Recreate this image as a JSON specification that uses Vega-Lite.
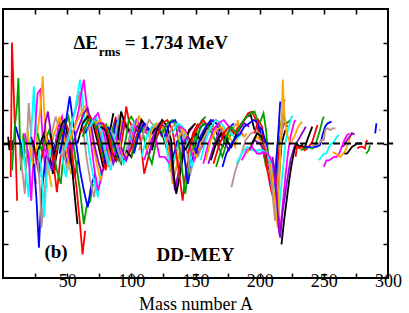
{
"$schema": "https://vega.github.io/schema/vega-lite/v6.json",
"width": 385, "height": 269,
"autosize": {"type": "none"},
"padding": {"left": 3, "top": 9, "right": 21, "bottom": 35},
"config": {"view": {"stroke": "black", "strokeWidth": 2},
 "axis": {"grid": false, "domain": false, "tickColor": "black", "tickWidth": 1.5, "labelFont": "Liberation Serif", "labelFontSize": 18, "labelColor": "black", "titleFont": "Liberation Serif", "titleFontSize": 18, "titleFontWeight": "normal", "titleColor": "black"}},
"resolve": {"axis": {"x": "independent", "y": "independent"}},
"layer": [
{"data": {"values": [
{"z":2,"a":4,"e":0.2},{"z":2,"a":5,"e":-0.2},{"z":2,"a":6,"e":0.1},{"z":2,"a":7,"e":-0.2},{"z":2,"a":8,"e":0.1},
{"z":3,"a":6,"e":-1.0},{"z":3,"a":7,"e":3.0},{"z":3,"a":9,"e":0.8},{"z":3,"a":10,"e":-0.4},{"z":3,"a":11,"e":-1.7},
{"z":4,"a":7,"e":-0.8},{"z":4,"a":9,"e":0.4},{"z":4,"a":11,"e":1.2},{"z":4,"a":12,"e":1.95},{"z":4,"a":13,"e":0.4},{"z":4,"a":14,"e":-0.8},{"z":4,"a":16,"e":0.3},{"z":4,"a":17,"e":-0.3},
{"z":5,"a":10,"e":0.5},{"z":5,"a":12,"e":0.2},{"z":5,"a":14,"e":0},{"z":5,"a":16,"e":-0.3},{"z":5,"a":18,"e":-0.7},{"z":5,"a":19,"e":-0.2},{"z":5,"a":21,"e":-0.6},
{"z":6,"a":13,"e":-0.3},{"z":6,"a":15,"e":-0.8},{"z":6,"a":17,"e":-1.5},{"z":6,"a":19,"e":0.3},{"z":6,"a":20,"e":1.2},{"z":6,"a":22,"e":0.2},{"z":6,"a":24,"e":-0.6},{"z":6,"a":26,"e":-1.2},
{"z":7,"a":15,"e":0.1},{"z":7,"a":17,"e":-0.6},{"z":7,"a":20,"e":-1.6},{"z":7,"a":22,"e":0.3},{"z":7,"a":24,"e":1.7},{"z":7,"a":25,"e":1.0},{"z":7,"a":27,"e":-0.3},{"z":7,"a":29,"e":-1.0},
{"z":8,"a":17,"e":0.3},{"z":8,"a":20,"e":-0.4},{"z":8,"a":22,"e":-1.7},{"z":8,"a":24,"e":-0.2},{"z":8,"a":26,"e":1.0},{"z":8,"a":27,"e":1.5},{"z":8,"a":29,"e":1.6},{"z":8,"a":30,"e":0.7},{"z":8,"a":32,"e":-0.4},{"z":8,"a":34,"e":-1.3},
{"z":9,"a":19,"e":0.4},{"z":9,"a":22,"e":-0.4},{"z":9,"a":25,"e":-0.9},{"z":9,"a":27,"e":0.4},{"z":9,"a":29,"e":1.0},{"z":9,"a":31,"e":2.0},{"z":9,"a":32,"e":1.0},{"z":9,"a":34,"e":0},{"z":9,"a":36,"e":-0.9},{"z":9,"a":38,"e":-1.3},
{"z":10,"a":22,"e":0.2},{"z":10,"a":25,"e":-0.3},{"z":10,"a":28,"e":-0.9},{"z":10,"a":31,"e":-0.2},{"z":10,"a":33,"e":0.6},{"z":10,"a":35,"e":0.95},{"z":10,"a":37,"e":0.4},{"z":10,"a":39,"e":-0.4},{"z":10,"a":41,"e":-0.8},
{"z":11,"a":23,"e":0.1},{"z":11,"a":26,"e":-0.4},{"z":11,"a":29,"e":0},{"z":11,"a":32,"e":0.3},{"z":11,"a":35,"e":-0.2},{"z":11,"a":37,"e":-0.5},{"z":11,"a":39,"e":-0.9},{"z":11,"a":42,"e":-0.3},{"z":11,"a":44,"e":0.2},
{"z":12,"a":25,"e":-0.2},{"z":12,"a":28,"e":-0.7},{"z":12,"a":31,"e":-0.3},{"z":12,"a":34,"e":0.2},{"z":12,"a":37,"e":-0.1},{"z":12,"a":40,"e":-0.8},{"z":12,"a":42,"e":-1.45},{"z":12,"a":44,"e":-0.7},{"z":12,"a":46,"e":0},
{"z":13,"a":27,"e":0.3},{"z":13,"a":30,"e":-0.2},{"z":13,"a":33,"e":0.1},{"z":13,"a":36,"e":0.4},{"z":13,"a":39,"e":-0.2},{"z":13,"a":42,"e":-0.8},{"z":13,"a":45,"e":-1.2},{"z":13,"a":47,"e":-0.4},{"z":13,"a":49,"e":0.2},
{"z":14,"a":24,"e":-0.6},{"z":14,"a":26,"e":-1.6},{"z":14,"a":28,"e":-3.1},{"z":14,"a":30,"e":-1.5},{"z":14,"a":33,"e":-0.5},{"z":14,"a":36,"e":0.1},{"z":14,"a":39,"e":-0.3},{"z":14,"a":42,"e":0.2},{"z":14,"a":45,"e":0.6},{"z":14,"a":48,"e":-0.1},{"z":14,"a":50,"e":-0.6},
{"z":15,"a":27,"e":-0.5},{"z":15,"a":29,"e":-1.4},{"z":15,"a":30,"e":-2.5},{"z":15,"a":32,"e":-1.6},{"z":15,"a":35,"e":-0.3},{"z":15,"a":38,"e":0.3},{"z":15,"a":41,"e":0.8},{"z":15,"a":44,"e":0.4},{"z":15,"a":47,"e":-0.2},{"z":15,"a":50,"e":-0.8},{"z":15,"a":52,"e":-0.5},
{"z":16,"a":28,"e":-0.2},{"z":16,"a":30,"e":-0.8},{"z":16,"a":32,"e":-2.2},{"z":16,"a":34,"e":-1.0},{"z":16,"a":37,"e":-0.2},{"z":16,"a":40,"e":0.3},{"z":16,"a":43,"e":0.1},{"z":16,"a":46,"e":-0.4},{"z":16,"a":49,"e":-1.0},{"z":16,"a":52,"e":-0.4},{"z":16,"a":54,"e":0.1},
{"z":17,"a":31,"e":0},{"z":17,"a":34,"e":-0.3},{"z":17,"a":37,"e":0.1},{"z":17,"a":40,"e":-0.4},{"z":17,"a":43,"e":0.5},{"z":17,"a":46,"e":0.8},{"z":17,"a":49,"e":0},{"z":17,"a":52,"e":-0.6},{"z":17,"a":55,"e":0},
{"z":18,"a":33,"e":0.3},{"z":18,"a":36,"e":-0.2},{"z":18,"a":39,"e":0.2},{"z":18,"a":42,"e":0.5},{"z":18,"a":44,"e":0.8},{"z":18,"a":47,"e":0.3},{"z":18,"a":50,"e":-0.4},{"z":18,"a":53,"e":-0.9},{"z":18,"a":56,"e":-0.2},
{"z":19,"a":35,"e":-0.4},{"z":19,"a":38,"e":-0.8},{"z":19,"a":41,"e":-0.2},{"z":19,"a":44,"e":0.2},{"z":19,"a":47,"e":0.5},{"z":19,"a":50,"e":0.1},{"z":19,"a":53,"e":-0.6},{"z":19,"a":56,"e":-1.0},{"z":19,"a":58,"e":-0.5},
{"z":20,"a":37,"e":0.3},{"z":20,"a":40,"e":-0.4},{"z":20,"a":43,"e":0.2},{"z":20,"a":46,"e":0.6},{"z":20,"a":48,"e":0.7},{"z":20,"a":51,"e":0.1},{"z":20,"a":54,"e":-0.8},{"z":20,"a":56,"e":-1.6},{"z":20,"a":58,"e":-2.4},
{"z":21,"a":40,"e":-0.5},{"z":21,"a":43,"e":0},{"z":21,"a":46,"e":0.3},{"z":21,"a":49,"e":0.6},{"z":21,"a":51,"e":0.4},{"z":21,"a":54,"e":-0.4},{"z":21,"a":57,"e":-1.2},{"z":21,"a":60,"e":-2.4},{"z":21,"a":62,"e":-3.3},{"z":21,"a":64,"e":-2.6},
{"z":22,"a":42,"e":-0.2},{"z":22,"a":45,"e":0.3},{"z":22,"a":48,"e":0.5},{"z":22,"a":51,"e":0.8},{"z":22,"a":54,"e":0.2},{"z":22,"a":57,"e":-0.6},{"z":22,"a":60,"e":-1.4},{"z":22,"a":63,"e":-2.4},{"z":22,"a":65,"e":-1.9},{"z":22,"a":68,"e":-1.7},{"z":22,"a":70,"e":-1.2},
{"z":23,"a":44,"e":-0.3},{"z":23,"a":47,"e":0.2},{"z":23,"a":50,"e":0.9},{"z":23,"a":52,"e":1.4},{"z":23,"a":54,"e":0.8},{"z":23,"a":57,"e":0},{"z":23,"a":60,"e":-0.8},{"z":23,"a":63,"e":-1.4},{"z":23,"a":66,"e":-1.9},{"z":23,"a":69,"e":-1.2},{"z":23,"a":72,"e":-0.9},
{"z":24,"a":46,"e":-0.4},{"z":24,"a":49,"e":0},{"z":24,"a":52,"e":0.4},{"z":24,"a":55,"e":0.8},{"z":24,"a":58,"e":1.2},{"z":24,"a":60,"e":1.55},{"z":24,"a":62,"e":0.6},{"z":24,"a":65,"e":-0.4},{"z":24,"a":68,"e":-1.1},{"z":24,"a":71,"e":-1.6},{"z":24,"a":73,"e":-1.0},
{"z":25,"a":48,"e":-0.2},{"z":25,"a":51,"e":0.1},{"z":25,"a":54,"e":0.6},{"z":25,"a":57,"e":1.2},{"z":25,"a":60,"e":1.9},{"z":25,"a":62,"e":1.3},{"z":25,"a":65,"e":0.3},{"z":25,"a":68,"e":-0.5},{"z":25,"a":71,"e":-1.1},{"z":25,"a":74,"e":-1.6},{"z":25,"a":76,"e":-0.8},
{"z":26,"a":50,"e":-0.3},{"z":26,"a":53,"e":0.2},{"z":26,"a":56,"e":0.5},{"z":26,"a":59,"e":1.0},{"z":26,"a":61,"e":1.5},{"z":26,"a":63,"e":1.9},{"z":26,"a":65,"e":1.2},{"z":26,"a":68,"e":0.2},{"z":26,"a":71,"e":-0.7},{"z":26,"a":74,"e":-1.4},{"z":26,"a":77,"e":-1.0},
{"z":27,"a":52,"e":0.1},{"z":27,"a":55,"e":0.4},{"z":27,"a":58,"e":0.7},{"z":27,"a":61,"e":0.9},{"z":27,"a":64,"e":1.1},{"z":27,"a":67,"e":0.6},{"z":27,"a":70,"e":0},{"z":27,"a":73,"e":-0.6},{"z":27,"a":76,"e":-1.1},{"z":27,"a":79,"e":-0.6},
{"z":28,"a":54,"e":-0.1},{"z":28,"a":57,"e":0.3},{"z":28,"a":60,"e":0.6},{"z":28,"a":63,"e":0.9},{"z":28,"a":66,"e":1.05},{"z":28,"a":68,"e":0.7},{"z":28,"a":71,"e":0},{"z":28,"a":74,"e":-0.5},{"z":28,"a":77,"e":-0.9},{"z":28,"a":80,"e":-0.5},
{"z":29,"a":58,"e":0},{"z":29,"a":62,"e":0.6},{"z":29,"a":66,"e":0.8},{"z":29,"a":70,"e":0.6},{"z":29,"a":74,"e":0},{"z":29,"a":78,"e":-0.7},{"z":29,"a":82,"e":0.1},{"z":29,"a":86,"e":0.9},
{"z":30,"a":60,"e":0.3},{"z":30,"a":64,"e":0.5},{"z":30,"a":68,"e":0.8},{"z":30,"a":72,"e":0.5},{"z":30,"a":76,"e":-0.2},{"z":30,"a":80,"e":-0.8},{"z":30,"a":84,"e":0.2},{"z":30,"a":88,"e":0.8},
{"z":31,"a":62,"e":0.2},{"z":31,"a":66,"e":0.7},{"z":31,"a":70,"e":0.7},{"z":31,"a":74,"e":0.4},{"z":31,"a":78,"e":-0.4},{"z":31,"a":82,"e":-0.6},{"z":31,"a":86,"e":0.5},{"z":31,"a":90,"e":0.7},
{"z":32,"a":64,"e":0.3},{"z":32,"a":68,"e":0.6},{"z":32,"a":72,"e":0.8},{"z":32,"a":76,"e":0.2},{"z":32,"a":80,"e":-0.6},{"z":32,"a":84,"e":-0.4},{"z":32,"a":88,"e":0.7},{"z":32,"a":92,"e":0.5},
{"z":33,"a":66,"e":0.4},{"z":33,"a":70,"e":0.7},{"z":33,"a":74,"e":0.6},{"z":33,"a":78,"e":0},{"z":33,"a":82,"e":-0.7},{"z":33,"a":86,"e":-0.1},{"z":33,"a":90,"e":0.8},{"z":33,"a":94,"e":0.4},
{"z":34,"a":68,"e":0.5},{"z":34,"a":72,"e":0.8},{"z":34,"a":76,"e":0.5},{"z":34,"a":80,"e":-0.2},{"z":34,"a":84,"e":-0.8},{"z":34,"a":88,"e":0.2},{"z":34,"a":92,"e":0.9},{"z":34,"a":96,"e":0.4},
{"z":35,"a":70,"e":0.7},{"z":35,"a":74,"e":0.9},{"z":35,"a":78,"e":0.4},{"z":35,"a":82,"e":-0.3},{"z":35,"a":86,"e":-0.5},{"z":35,"a":90,"e":0.5},{"z":35,"a":94,"e":0.7},{"z":35,"a":98,"e":0.3},
{"z":36,"a":72,"e":0.6},{"z":36,"a":76,"e":0.7},{"z":36,"a":80,"e":0.3},{"z":36,"a":84,"e":-0.5},{"z":36,"a":88,"e":-0.4},{"z":36,"a":92,"e":0.7},{"z":36,"a":96,"e":0.6},{"z":36,"a":100,"e":0.3},
{"z":37,"a":74,"e":0.6},{"z":37,"a":78,"e":0.6},{"z":37,"a":82,"e":0},{"z":37,"a":86,"e":-0.6},{"z":37,"a":90,"e":-0.1},{"z":37,"a":94,"e":0.7},{"z":37,"a":98,"e":0.4},{"z":37,"a":102,"e":0.3},
{"z":38,"a":76,"e":0.5},{"z":38,"a":80,"e":0.4},{"z":38,"a":84,"e":-0.2},{"z":38,"a":88,"e":-0.5},{"z":38,"a":90,"e":0.3},{"z":38,"a":92,"e":0.95},{"z":38,"a":96,"e":0.5},{"z":38,"a":100,"e":0.3},{"z":38,"a":104,"e":0.4},
{"z":39,"a":78,"e":0.6},{"z":39,"a":82,"e":0.3},{"z":39,"a":86,"e":-0.4},{"z":39,"a":90,"e":-0.5},{"z":39,"a":94,"e":0.4},{"z":39,"a":96,"e":1.1},{"z":39,"a":98,"e":0.7},{"z":39,"a":102,"e":0.4},{"z":39,"a":106,"e":0.5},
{"z":40,"a":80,"e":0.6},{"z":40,"a":84,"e":0.2},{"z":40,"a":88,"e":-0.3},{"z":40,"a":92,"e":-0.6},{"z":40,"a":96,"e":0.2},{"z":40,"a":98,"e":0.7},{"z":40,"a":100,"e":0.8},{"z":40,"a":104,"e":0.5},{"z":40,"a":108,"e":0.4},
{"z":41,"a":82,"e":0.5},{"z":41,"a":86,"e":0.1},{"z":41,"a":90,"e":-0.4},{"z":41,"a":94,"e":-0.5},{"z":41,"a":98,"e":0},{"z":41,"a":100,"e":0.4},{"z":41,"a":102,"e":0.5},{"z":41,"a":106,"e":0.3},{"z":41,"a":110,"e":0.45},
{"z":42,"a":84,"e":0.4},{"z":42,"a":88,"e":0},{"z":42,"a":92,"e":-0.5},{"z":42,"a":96,"e":-0.3},{"z":42,"a":100,"e":0.5},{"z":42,"a":104,"e":0.7},{"z":42,"a":108,"e":0.4},{"z":42,"a":112,"e":0.3},{"z":42,"a":114,"e":0.4},
{"z":43,"a":86,"e":0.3},{"z":43,"a":90,"e":-0.1},{"z":43,"a":94,"e":-0.6},{"z":43,"a":98,"e":-0.2},{"z":43,"a":102,"e":0.6},{"z":43,"a":106,"e":0.8},{"z":43,"a":110,"e":0.4},{"z":43,"a":114,"e":0.2},{"z":43,"a":116,"e":0.3},
{"z":44,"a":88,"e":0.2},{"z":44,"a":92,"e":-0.3},{"z":44,"a":96,"e":-0.5},{"z":44,"a":100,"e":0.1},{"z":44,"a":104,"e":0.7},{"z":44,"a":108,"e":0.5},{"z":44,"a":112,"e":0.3},{"z":44,"a":116,"e":0.4},{"z":44,"a":118,"e":0.5},
{"z":45,"a":90,"e":0.1},{"z":45,"a":94,"e":-0.4},{"z":45,"a":98,"e":-0.3},{"z":45,"a":102,"e":0.3},{"z":45,"a":106,"e":0.8},{"z":45,"a":110,"e":0.5},{"z":45,"a":114,"e":0.3},{"z":45,"a":118,"e":0.5},{"z":45,"a":122,"e":0.4},
{"z":46,"a":92,"e":-0.1},{"z":46,"a":96,"e":-0.5},{"z":46,"a":100,"e":-0.1},{"z":46,"a":104,"e":0.5},{"z":46,"a":108,"e":0.6},{"z":46,"a":112,"e":0.4},{"z":46,"a":116,"e":0.4},{"z":46,"a":120,"e":0.5},{"z":46,"a":124,"e":0.2},
{"z":47,"a":96,"e":-0.2},{"z":47,"a":100,"e":-0.4},{"z":47,"a":104,"e":0.2},{"z":47,"a":108,"e":0.7},{"z":47,"a":112,"e":0.5},{"z":47,"a":116,"e":0.3},{"z":47,"a":120,"e":0.5},{"z":47,"a":124,"e":0.3},{"z":47,"a":128,"e":-0.2},
{"z":48,"a":98,"e":-0.3},{"z":48,"a":102,"e":0},{"z":48,"a":106,"e":0.4},{"z":48,"a":108,"e":-0.2},{"z":48,"a":110,"e":-0.9},{"z":48,"a":114,"e":-0.3},{"z":48,"a":118,"e":0.3},{"z":48,"a":122,"e":0.5},{"z":48,"a":126,"e":0.3},{"z":48,"a":130,"e":-0.3},
{"z":49,"a":100,"e":-0.4},{"z":49,"a":104,"e":0.1},{"z":49,"a":108,"e":0.5},{"z":49,"a":112,"e":-0.2},{"z":49,"a":116,"e":-0.6},{"z":49,"a":120,"e":0.2},{"z":49,"a":124,"e":0.5},{"z":49,"a":128,"e":0.3},{"z":49,"a":132,"e":-0.4},
{"z":50,"a":102,"e":-0.3},{"z":50,"a":106,"e":0.3},{"z":50,"a":110,"e":0.6},{"z":50,"a":114,"e":0.4},{"z":50,"a":118,"e":0.5},{"z":50,"a":122,"e":0.5},{"z":50,"a":126,"e":0.2},{"z":50,"a":129,"e":-0.2},{"z":50,"a":131,"e":-0.6},{"z":50,"a":134,"e":-0.2},{"z":50,"a":136,"e":0.1},
{"z":51,"a":106,"e":-0.2},{"z":51,"a":110,"e":0.4},{"z":51,"a":114,"e":0.7},{"z":51,"a":118,"e":0.5},{"z":51,"a":122,"e":0.5},{"z":51,"a":126,"e":0.3},{"z":51,"a":130,"e":-0.3},{"z":51,"a":132,"e":-0.7},{"z":51,"a":135,"e":-0.3},{"z":51,"a":138,"e":0.2},
{"z":52,"a":108,"e":-0.4},{"z":52,"a":112,"e":0.2},{"z":52,"a":116,"e":0.5},{"z":52,"a":120,"e":0.6},{"z":52,"a":124,"e":0.4},{"z":52,"a":127,"e":0},{"z":52,"a":130,"e":-0.85},{"z":52,"a":133,"e":-0.5},{"z":52,"a":136,"e":-0.1},{"z":52,"a":140,"e":0.3},
{"z":53,"a":110,"e":-0.5},{"z":53,"a":114,"e":0},{"z":53,"a":118,"e":0.3},{"z":53,"a":122,"e":-0.4},{"z":53,"a":126,"e":-0.4},{"z":53,"a":130,"e":-0.6},{"z":53,"a":133,"e":-1.0},{"z":53,"a":136,"e":-0.6},{"z":53,"a":139,"e":-0.1},{"z":53,"a":142,"e":0.3},
{"z":54,"a":112,"e":-0.2},{"z":54,"a":116,"e":0.4},{"z":54,"a":120,"e":0.6},{"z":54,"a":124,"e":0.5},{"z":54,"a":127,"e":0.3},{"z":54,"a":130,"e":-0.4},{"z":54,"a":132,"e":-1.2},{"z":54,"a":135,"e":-0.7},{"z":54,"a":138,"e":-0.2},{"z":54,"a":142,"e":0.2},{"z":54,"a":146,"e":0.4},
{"z":55,"a":114,"e":-0.3},{"z":55,"a":118,"e":0.3},{"z":55,"a":122,"e":0.6},{"z":55,"a":126,"e":0.5},{"z":55,"a":130,"e":-0.1},{"z":55,"a":132,"e":-0.8},{"z":55,"a":134,"e":-1.4},{"z":55,"a":137,"e":-0.8},{"z":55,"a":140,"e":-0.2},{"z":55,"a":144,"e":0.3},{"z":55,"a":148,"e":0.5},
{"z":56,"a":116,"e":-0.2},{"z":56,"a":120,"e":0.4},{"z":56,"a":124,"e":0.7},{"z":56,"a":128,"e":0.5},{"z":56,"a":131,"e":0.1},{"z":56,"a":133,"e":-0.9},{"z":56,"a":135,"e":-1.5},{"z":56,"a":138,"e":-0.9},{"z":56,"a":141,"e":-0.2},{"z":56,"a":145,"e":0.4},{"z":56,"a":150,"e":0.6},
{"z":57,"a":120,"e":0.2},{"z":57,"a":124,"e":0.6},{"z":57,"a":128,"e":0.7},{"z":57,"a":132,"e":0.4},{"z":57,"a":135,"e":-0.3},{"z":57,"a":138,"e":-1.1},{"z":57,"a":140,"e":-1.7},{"z":57,"a":142,"e":-1.0},{"z":57,"a":145,"e":-0.3},{"z":57,"a":148,"e":0.3},{"z":57,"a":152,"e":0.6},
{"z":58,"a":124,"e":0.3},{"z":58,"a":128,"e":0.6},{"z":58,"a":132,"e":0.7},{"z":58,"a":135,"e":0.5},{"z":58,"a":138,"e":-0.3},{"z":58,"a":140,"e":-0.9},{"z":58,"a":142,"e":-1.5},{"z":58,"a":144,"e":-0.9},{"z":58,"a":147,"e":-0.2},{"z":58,"a":151,"e":0.4},{"z":58,"a":155,"e":0.7},{"z":58,"a":158,"e":0.8},
{"z":59,"a":126,"e":0.2},{"z":59,"a":130,"e":0.6},{"z":59,"a":134,"e":0.7},{"z":59,"a":138,"e":0.4},{"z":59,"a":141,"e":-0.3},{"z":59,"a":144,"e":-1.2},{"z":59,"a":147,"e":-0.6},{"z":59,"a":150,"e":0},{"z":59,"a":154,"e":0.5},{"z":59,"a":158,"e":0.6},
{"z":60,"a":128,"e":0.1},{"z":60,"a":132,"e":0.5},{"z":60,"a":136,"e":0.6},{"z":60,"a":140,"e":0.3},{"z":60,"a":143,"e":-0.2},{"z":60,"a":146,"e":-0.9},{"z":60,"a":149,"e":-0.4},{"z":60,"a":152,"e":0.1},{"z":60,"a":156,"e":0.4},{"z":60,"a":160,"e":0.5},
{"z":61,"a":132,"e":0.3},{"z":61,"a":136,"e":0.6},{"z":61,"a":140,"e":0.5},{"z":61,"a":144,"e":0},{"z":61,"a":147,"e":-0.7},{"z":61,"a":150,"e":-0.3},{"z":61,"a":154,"e":0.2},{"z":61,"a":158,"e":0.5},{"z":61,"a":162,"e":0.6},
{"z":62,"a":134,"e":0.2},{"z":62,"a":138,"e":0.5},{"z":62,"a":142,"e":0.4},{"z":62,"a":146,"e":-0.1},{"z":62,"a":149,"e":-0.5},{"z":62,"a":152,"e":-0.2},{"z":62,"a":156,"e":0.3},{"z":62,"a":160,"e":0.6},{"z":62,"a":164,"e":0.7},{"z":62,"a":166,"e":0.6},
{"z":63,"a":136,"e":0.1},{"z":63,"a":140,"e":0.4},{"z":63,"a":144,"e":0.2},{"z":63,"a":148,"e":-0.2},{"z":63,"a":151,"e":-0.4},{"z":63,"a":154,"e":0},{"z":63,"a":158,"e":0.4},{"z":63,"a":162,"e":0.5},{"z":63,"a":166,"e":0.7},{"z":63,"a":168,"e":0.6},
{"z":64,"a":140,"e":0},{"z":64,"a":144,"e":0.2},{"z":64,"a":148,"e":0},{"z":64,"a":152,"e":-0.3},{"z":64,"a":155,"e":-0.1},{"z":64,"a":159,"e":0.3},{"z":64,"a":163,"e":0.5},{"z":64,"a":167,"e":0.4},{"z":64,"a":170,"e":0.2},
{"z":65,"a":142,"e":-0.2},{"z":65,"a":146,"e":0.1},{"z":65,"a":150,"e":0.3},{"z":65,"a":154,"e":0.1},{"z":65,"a":158,"e":0.4},{"z":65,"a":162,"e":0.6},{"z":65,"a":166,"e":0.4},{"z":65,"a":169,"e":0},{"z":65,"a":172,"e":-0.1},
{"z":66,"a":144,"e":-0.3},{"z":66,"a":148,"e":0.2},{"z":66,"a":152,"e":0.5},{"z":66,"a":156,"e":0.7},{"z":66,"a":160,"e":0.5},{"z":66,"a":164,"e":0.4},{"z":66,"a":168,"e":0.6},{"z":66,"a":172,"e":0.3},{"z":66,"a":176,"e":0.1},
{"z":67,"a":148,"e":-0.2},{"z":67,"a":152,"e":0.3},{"z":67,"a":156,"e":0.6},{"z":67,"a":160,"e":0.5},{"z":67,"a":164,"e":0.2},{"z":67,"a":168,"e":-0.1},{"z":67,"a":171,"e":-0.4},{"z":67,"a":174,"e":0},{"z":67,"a":178,"e":0.3},
{"z":68,"a":150,"e":-0.3},{"z":68,"a":154,"e":0.2},{"z":68,"a":158,"e":0.5},{"z":68,"a":162,"e":0.7},{"z":68,"a":166,"e":0.6},{"z":68,"a":170,"e":0.3},{"z":68,"a":174,"e":0.1},{"z":68,"a":177,"e":0.5},{"z":68,"a":180,"e":0.6},
{"z":69,"a":152,"e":-0.4},{"z":69,"a":156,"e":0.1},{"z":69,"a":160,"e":0.4},{"z":69,"a":164,"e":0.5},{"z":69,"a":168,"e":0.3},{"z":69,"a":172,"e":0.4},{"z":69,"a":176,"e":0.3},{"z":69,"a":180,"e":0.5},{"z":69,"a":182,"e":0.6},
{"z":70,"a":154,"e":-0.5},{"z":70,"a":158,"e":0.1},{"z":70,"a":162,"e":0.5},{"z":70,"a":166,"e":0.7},{"z":70,"a":170,"e":0.6},{"z":70,"a":174,"e":0.4},{"z":70,"a":178,"e":0.3},{"z":70,"a":182,"e":0.1},{"z":70,"a":186,"e":0.3},
{"z":71,"a":156,"e":-0.6},{"z":71,"a":160,"e":0},{"z":71,"a":164,"e":0.4},{"z":71,"a":168,"e":0.6},{"z":71,"a":172,"e":0.7},{"z":71,"a":176,"e":0.5},{"z":71,"a":180,"e":0.3},{"z":71,"a":184,"e":0.4},{"z":71,"a":188,"e":0.2},
{"z":72,"a":158,"e":-0.5},{"z":72,"a":162,"e":0.1},{"z":72,"a":166,"e":0.4},{"z":72,"a":170,"e":0.5},{"z":72,"a":174,"e":0.3},{"z":72,"a":178,"e":0.1},{"z":72,"a":181,"e":-0.1},{"z":72,"a":183,"e":0.7},{"z":72,"a":185,"e":0.3},{"z":72,"a":188,"e":0.2},{"z":72,"a":190,"e":0.3},
{"z":73,"a":160,"e":-0.6},{"z":73,"a":164,"e":-0.1},{"z":73,"a":168,"e":0.3},{"z":73,"a":172,"e":0.1},{"z":73,"a":176,"e":-0.2},{"z":73,"a":180,"e":0.1},{"z":73,"a":184,"e":0.4},{"z":73,"a":188,"e":0.6},{"z":73,"a":192,"e":0.5},
{"z":74,"a":162,"e":-0.5},{"z":74,"a":166,"e":0},{"z":74,"a":170,"e":0.3},{"z":74,"a":174,"e":0.1},{"z":74,"a":178,"e":-0.1},{"z":74,"a":182,"e":0.3},{"z":74,"a":186,"e":0.6},{"z":74,"a":190,"e":0.8},{"z":74,"a":193,"e":0.85},{"z":74,"a":196,"e":0.4},
{"z":75,"a":164,"e":-0.6},{"z":75,"a":168,"e":-0.1},{"z":75,"a":172,"e":0.3},{"z":75,"a":176,"e":0.5},{"z":75,"a":180,"e":0.3},{"z":75,"a":184,"e":0.5},{"z":75,"a":188,"e":0.7},{"z":75,"a":191,"e":0.9},{"z":75,"a":194,"e":0.95},{"z":75,"a":197,"e":0.7},{"z":75,"a":200,"e":0.2},{"z":75,"a":203,"e":-0.3},{"z":75,"a":206,"e":-0.8},
{"z":76,"a":166,"e":-0.7},{"z":76,"a":170,"e":-0.2},{"z":76,"a":174,"e":0.2},{"z":76,"a":178,"e":0.5},{"z":76,"a":182,"e":0.3},{"z":76,"a":186,"e":0.6},{"z":76,"a":190,"e":0.8},{"z":76,"a":193,"e":0.9},{"z":76,"a":196,"e":0.95},{"z":76,"a":199,"e":0.6},{"z":76,"a":202,"e":0},{"z":76,"a":205,"e":-0.7},
{"z":77,"a":171,"e":-0.7},{"z":77,"a":174,"e":-0.3},{"z":77,"a":178,"e":0},{"z":77,"a":182,"e":0.2},{"z":77,"a":185,"e":0.3},{"z":77,"a":188,"e":0.5},{"z":77,"a":192,"e":0.6},{"z":77,"a":195,"e":0.7},{"z":77,"a":198,"e":0.65},{"z":77,"a":201,"e":0.3},{"z":77,"a":204,"e":-0.2},{"z":77,"a":207,"e":-0.8},
{"z":78,"a":178,"e":-1.3},{"z":78,"a":181,"e":-0.8},{"z":78,"a":185,"e":-0.4},{"z":78,"a":189,"e":0.1},{"z":78,"a":193,"e":0.3},{"z":78,"a":197,"e":0.35},{"z":78,"a":200,"e":0.3},{"z":78,"a":203,"e":0.2},{"z":78,"a":206,"e":-0.1},
{"z":79,"a":182,"e":-0.6},{"z":79,"a":186,"e":-0.3},{"z":79,"a":190,"e":-0.1},{"z":79,"a":194,"e":-0.2},{"z":79,"a":197,"e":-0.2},{"z":79,"a":200,"e":-0.3},{"z":79,"a":203,"e":-0.2},{"z":79,"a":206,"e":-0.5},{"z":79,"a":209,"e":-0.9},{"z":79,"a":212,"e":-0.6},
{"z":80,"a":186,"e":-0.5},{"z":80,"a":190,"e":-0.2},{"z":80,"a":194,"e":-0.1},{"z":80,"a":198,"e":-0.3},{"z":80,"a":201,"e":-0.3},{"z":80,"a":204,"e":-0.25},{"z":80,"a":207,"e":-0.6},{"z":80,"a":210,"e":-1.1},{"z":80,"a":212,"e":-0.7},{"z":80,"a":214,"e":-0.4},
{"z":81,"a":190,"e":-0.3},{"z":81,"a":194,"e":0},{"z":81,"a":198,"e":0.2},{"z":81,"a":202,"e":0},{"z":81,"a":205,"e":-0.3},{"z":81,"a":208,"e":-0.9},{"z":81,"a":211,"e":-1.4},{"z":81,"a":214,"e":-0.6},{"z":81,"a":216,"e":-0.1},
{"z":82,"a":192,"e":-0.2},{"z":82,"a":196,"e":0.1},{"z":82,"a":200,"e":0},{"z":82,"a":204,"e":-0.2},{"z":82,"a":207,"e":-0.6},{"z":82,"a":210,"e":-1.2},{"z":82,"a":212,"e":-1.9},{"z":82,"a":214,"e":-1.0},{"z":82,"a":216,"e":-0.2},{"z":82,"a":218,"e":0.2},
{"z":83,"a":194,"e":0},{"z":83,"a":198,"e":0.3},{"z":83,"a":202,"e":0.2},{"z":83,"a":205,"e":-0.2},{"z":83,"a":208,"e":-0.8},{"z":83,"a":211,"e":-1.5},{"z":83,"a":213,"e":-2.0},{"z":83,"a":215,"e":-1.0},{"z":83,"a":217,"e":0},{"z":83,"a":220,"e":0.4},
{"z":84,"a":196,"e":0.3},{"z":84,"a":199,"e":0.7},{"z":84,"a":202,"e":0.5},{"z":84,"a":204,"e":-0.3},{"z":84,"a":206,"e":-0.8},{"z":84,"a":209,"e":-1.4},{"z":84,"a":212,"e":-1.8},{"z":84,"a":214,"e":-0.8},{"z":84,"a":216,"e":0.2},{"z":84,"a":219,"e":0.6},{"z":84,"a":222,"e":0.5},
{"z":85,"a":200,"e":0.6},{"z":85,"a":203,"e":0.9},{"z":85,"a":205,"e":0.4},{"z":85,"a":207,"e":-0.5},{"z":85,"a":209,"e":-0.8},{"z":85,"a":211,"e":-1.2},{"z":85,"a":213,"e":-0.4},{"z":85,"a":215,"e":0.4},{"z":85,"a":218,"e":0.8},{"z":85,"a":221,"e":0.6},{"z":85,"a":224,"e":0.7},
{"z":86,"a":200,"e":0.5},{"z":86,"a":202,"e":0.4},{"z":86,"a":205,"e":0},{"z":86,"a":207,"e":-0.5},{"z":86,"a":209,"e":-1.2},{"z":86,"a":211,"e":-1.7},{"z":86,"a":213,"e":-0.6},{"z":86,"a":215,"e":0.6},{"z":86,"a":216,"e":1.25},
{"z":87,"a":204,"e":0},{"z":87,"a":206,"e":-0.3},{"z":87,"a":208,"e":-0.8},{"z":87,"a":210,"e":-1.5},{"z":87,"a":212,"e":-2.3},{"z":87,"a":214,"e":-1.2},{"z":87,"a":216,"e":-0.2},{"z":87,"a":218,"e":0.6},{"z":87,"a":219,"e":1.25},{"z":87,"a":220,"e":1.3},
{"z":88,"a":198,"e":-0.2},{"z":88,"a":202,"e":-0.2},{"z":88,"a":206,"e":-0.3},{"z":88,"a":208,"e":-0.5},{"z":88,"a":210,"e":-1.0},{"z":88,"a":212,"e":-1.7},{"z":88,"a":214,"e":-2.4},{"z":88,"a":216,"e":-1.6},{"z":88,"a":218,"e":-0.8},{"z":88,"a":220,"e":0},{"z":88,"a":222,"e":0.4},{"z":88,"a":225,"e":0.8},{"z":88,"a":226,"e":0.8},
{"z":89,"a":202,"e":-0.25},{"z":89,"a":206,"e":-0.3},{"z":89,"a":208,"e":-0.4},{"z":89,"a":210,"e":-0.6},{"z":89,"a":212,"e":-1.1},{"z":89,"a":214,"e":-1.8},{"z":89,"a":216,"e":-2.6},{"z":89,"a":218,"e":-1.8},{"z":89,"a":220,"e":-1.0},{"z":89,"a":222,"e":-0.3},{"z":89,"a":224,"e":0.2},{"z":89,"a":227,"e":0.65},{"z":89,"a":228,"e":0.7},
{"z":90,"a":208,"e":-0.6},{"z":90,"a":210,"e":-1.0},{"z":90,"a":212,"e":-1.8},{"z":90,"a":214,"e":-2.5},{"z":90,"a":216,"e":-0.4},{"z":90,"a":218,"e":1.9},{"z":90,"a":219,"e":1.0},{"z":90,"a":221,"e":0.3},{"z":90,"a":224,"e":0},{"z":90,"a":227,"e":0.2},{"z":90,"a":230,"e":0.5},{"z":90,"a":233,"e":0.65},
{"z":91,"a":210,"e":-0.4},{"z":91,"a":212,"e":-1.0},{"z":91,"a":214,"e":-2.0},{"z":91,"a":215,"e":-2.6},{"z":91,"a":216,"e":-2.8},{"z":91,"a":218,"e":-2.0},{"z":91,"a":221,"e":-1.2},{"z":91,"a":224,"e":-0.5},{"z":91,"a":227,"e":-0.1},{"z":91,"a":230,"e":0.1},{"z":91,"a":233,"e":0.3},{"z":91,"a":236,"e":0.5},
{"z":92,"a":217,"e":-3.0},{"z":92,"a":219,"e":-2.3},{"z":92,"a":221,"e":-1.7},{"z":92,"a":223,"e":-1.1},{"z":92,"a":225,"e":-0.6},{"z":92,"a":227,"e":-0.2},{"z":92,"a":229,"e":0},{"z":92,"a":231,"e":-0.1},{"z":92,"a":233,"e":-0.05},{"z":92,"a":235,"e":-0.15},{"z":92,"a":237,"e":0.1},{"z":92,"a":239,"e":0.3},{"z":92,"a":241,"e":0.5},
{"z":93,"a":228,"e":-0.4},{"z":93,"a":229,"e":-0.1},{"z":93,"a":231,"e":-0.15},{"z":93,"a":233,"e":-0.1},{"z":93,"a":235,"e":-0.2},{"z":93,"a":237,"e":-0.15},{"z":93,"a":239,"e":-0.05},{"z":93,"a":241,"e":0.05},{"z":93,"a":243,"e":0.3},{"z":93,"a":245,"e":0.55},
{"z":94,"a":232,"e":-0.2},{"z":94,"a":235,"e":-0.15},{"z":94,"a":238,"e":-0.1},{"z":94,"a":241,"e":-0.15},{"z":94,"a":243,"e":-0.1},{"z":94,"a":245,"e":0.15},{"z":94,"a":247,"e":0.4},{"z":94,"a":249,"e":0.7},{"z":94,"a":250,"e":0.8},
{"z":95,"a":236,"e":-0.1},{"z":95,"a":240,"e":-0.1},{"z":95,"a":244,"e":-0.1},{"z":95,"a":247,"e":-0.05},{"z":95,"a":249,"e":0.25},{"z":95,"a":251,"e":0.5},{"z":95,"a":253,"e":0.6},{"z":95,"a":256,"e":0.65},
{"z":96,"a":240,"e":-0.1},{"z":96,"a":243,"e":-0.05},{"z":96,"a":246,"e":0},{"z":96,"a":248,"e":0.1},{"z":96,"a":250,"e":0.1},{"z":96,"a":251,"e":0.4},{"z":96,"a":253,"e":0.45},{"z":96,"a":255,"e":0.4},{"z":96,"a":257,"e":0.45},{"z":96,"a":259,"e":0.45},
{"z":97,"a":246,"e":-0.5},{"z":97,"a":248,"e":-0.4},{"z":97,"a":250,"e":-0.3},{"z":97,"a":252,"e":-0.3},{"z":97,"a":254,"e":-0.1},{"z":97,"a":256,"e":0},{"z":97,"a":258,"e":0.05},{"z":97,"a":260,"e":0.2},{"z":97,"a":262,"e":0.25},
{"z":98,"a":250,"e":-0.7},{"z":98,"a":252,"e":-0.5},{"z":98,"a":254,"e":-0.5},{"z":98,"a":256,"e":-0.45},{"z":98,"a":258,"e":-0.4},{"z":98,"a":260,"e":-0.4},{"z":98,"a":262,"e":-0.3},{"z":98,"a":264,"e":-0.1},{"z":98,"a":266,"e":0.1},{"z":98,"a":268,"e":0.25},{"z":98,"a":270,"e":0.3},
{"z":99,"a":257,"e":-0.25},{"z":99,"a":259,"e":-0.3},{"z":99,"a":261,"e":-0.35},{"z":99,"a":263,"e":-0.4},{"z":99,"a":265,"e":-0.3},{"z":99,"a":267,"e":-0.2},{"z":99,"a":269,"e":0},{"z":99,"a":271,"e":0.25},{"z":99,"a":272,"e":0.35},
{"z":100,"a":264,"e":-0.1},{"z":100,"a":266,"e":-0.05},{"z":100,"a":268,"e":0.1},{"z":100,"a":270,"e":0.2},{"z":100,"a":272,"e":0.3},{"z":100,"a":274,"e":0.27},
{"z":101,"a":266,"e":-0.3},{"z":101,"a":268,"e":-0.3},{"z":101,"a":270,"e":-0.2},{"z":101,"a":272,"e":-0.1},{"z":101,"a":274,"e":-0.05},{"z":101,"a":276,"e":0},{"z":101,"a":278,"e":0},{"z":101,"a":280,"e":0},
{"z":102,"a":276,"e":-0.15},{"z":102,"a":278,"e":-0.1},{"z":102,"a":280,"e":-0.1},{"z":102,"a":282,"e":-0.15},{"z":102,"a":283,"e":0.05},{"z":102,"a":284,"e":0.1},
{"z":103,"a":283,"e":-0.3},{"z":103,"a":285,"e":-0.2},{"z":103,"a":286,"e":-0.05},
{"z":104,"a":290,"e":0.3},{"z":104,"a":291,"e":0.6},
{"z":105,"a":293,"e":0.38},{"z":105,"a":294,"e":0.42}
]},
 "mark": {"type": "line", "strokeWidth": 1.8},
 "encoding": {
  "x": {"field": "a", "type": "quantitative", "scale": {"domain": [0, 300], "nice": false, "zero": false},
        "axis": {"orient": "bottom", "values": [25,50,75,100,125,150,175,200,225,250,275,300], "tickSize": -5, "labelExpr": "datum.value % 50 == 0 ? datum.label : ''", "labelOverlap": false, "labelFlush": false, "labelBaseline": "alphabetic", "labelPadding": 13, "title": "Mass number A", "titleBaseline": "alphabetic", "titleY": 31}},
  "y": {"field": "e", "type": "quantitative", "scale": {"domain": [-4, 4], "nice": false, "zero": false},
        "axis": {"orient": "left", "values": [-3,-2,-1,0,1,2,3], "tickSize": -5, "labels": false, "title": null}},
  "color": {"field": "z", "type": "nominal", "scale": {"range": ["#000000","#ff0000","#00a000","#0000ff","#bc8f8f","#00ffff","#ff00ff","#ffa500","#9400d3"]}, "legend": null}
 }},
{"data": {"values": [{"a0": 0, "a1": 304, "v": 0}]},
 "mark": {"type": "rule", "strokeDash": [7, 4], "strokeWidth": 1.8, "color": "black"},
 "encoding": {
  "x": {"field": "a0", "type": "quantitative", "axis": {"orient": "top", "values": [25,50,75,100,125,150,175,200,225,250,275], "tickSize": -5, "labels": false, "title": null}},
  "x2": {"field": "a1"},
  "y": {"field": "v", "type": "quantitative", "axis": {"orient": "right", "values": [-3,-2,-1,0,1,2,3], "tickSize": -5, "labels": false, "title": null}}
 }},
{"data": {"values": [{"a": 54.9, "e": 2.81, "s": "ΔE"}]},
 "mark": {"type": "text", "font": "Liberation Serif", "fontSize": 19, "fontWeight": "bold", "align": "left", "baseline": "alphabetic", "color": "black"},
 "encoding": {"x": {"field": "a", "type": "quantitative", "axis": null}, "y": {"field": "e", "type": "quantitative", "axis": null}, "text": {"field": "s"}}},
{"data": {"values": [{"a": 74.6, "e": 2.6, "s": "rms"}]},
 "mark": {"type": "text", "font": "Liberation Serif", "fontSize": 13, "fontWeight": "bold", "align": "left", "baseline": "alphabetic", "color": "black"},
 "encoding": {"x": {"field": "a", "type": "quantitative", "axis": null}, "y": {"field": "e", "type": "quantitative", "axis": null}, "text": {"field": "s"}}},
{"data": {"values": [{"a": 94.9, "e": 2.81, "s": "= 1.734 MeV"}]},
 "mark": {"type": "text", "font": "Liberation Serif", "fontSize": 19, "fontWeight": "bold", "align": "left", "baseline": "alphabetic", "color": "black"},
 "encoding": {"x": {"field": "a", "type": "quantitative", "axis": null}, "y": {"field": "e", "type": "quantitative", "axis": null}, "text": {"field": "s"}}},
{"data": {"values": [{"a": 32.3, "e": -3.41, "s": "(b)"}, {"a": 119.6, "e": -3.5, "s": "DD-MEY"}]},
 "mark": {"type": "text", "font": "Liberation Serif", "fontSize": 19, "fontWeight": "bold", "align": "left", "baseline": "alphabetic", "color": "black"},
 "encoding": {"x": {"field": "a", "type": "quantitative", "axis": null}, "y": {"field": "e", "type": "quantitative", "axis": null}, "text": {"field": "s"}}}
]
}
